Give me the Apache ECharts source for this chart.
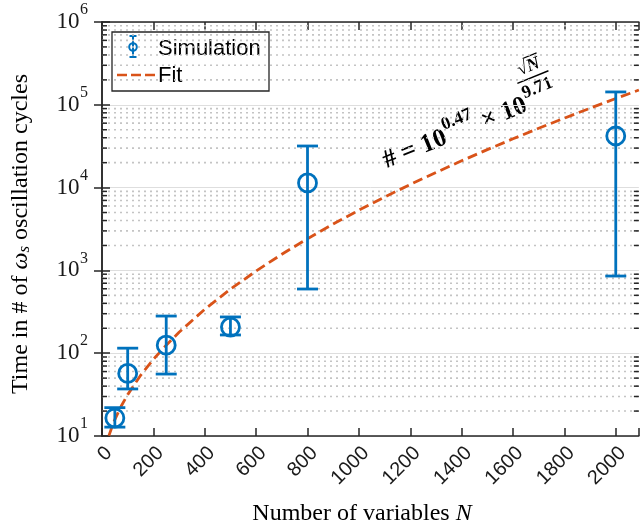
<!DOCTYPE html>
<html><head><meta charset="utf-8">
<script src="https://cdn.jsdelivr.net/npm/echarts@6/dist/echarts.min.js"></script>
<style>html,body{margin:0;padding:0;background:#fff}#c{width:641px;height:527px}</style>
</head><body><div id="c"></div>
<script>
// ---- data ----
const simN     = [50, 100, 250, 500, 800, 2000];
const simMean  = [16.5, 57, 125, 207, 11400, 42000];
const simLow   = [12.8, 37, 56, 166, 596, 855];
const simHigh  = [22, 115, 281, 274, 31800, 143000];
const fitN     = [27, 40, 50, 75, 100, 150, 200, 250, 300, 400, 500, 600, 700, 800, 900, 1000, 1100, 1200, 1300, 1400, 1500, 1600, 1700, 1800, 1900, 2000, 2090];
const fitVals  = [10.1, 13.2, 15.8, 23.0, 31.6, 53.9, 84.4, 125, 179, 339, 593, 984, 1566, 2415, 3631, 5330, 7690, 10900, 15240, 21050, 28770, 38840, 52000, 69050, 91000, 119100, 150700];
const xTicks   = [0, 200, 400, 600, 800, 1000, 1200, 1400, 1600, 1800, 2000];
const yTicks   = [10, 100, 1000, 10000, 100000, 1000000];
const yDecades = [10, 100, 1000, 10000, 100000];
const minorMult = [2, 3, 4, 5, 6, 7, 8, 9];

const X_MIN = 0, X_MAX = 2090, Y_MIN = 10, Y_MAX = 1e6;
const BLUE = '#0072BD', ORANGE = '#D95319', AX = '#262626', TXT = '#1a1a1a';
const SERIF = '"Liberation Serif","Times New Roman",serif';
const SANS = '"Liberation Sans",Arial,sans-serif';

const minorVals = [];
yDecades.forEach(d => minorMult.forEach(m => minorVals.push([d * m])));

const ctx = document.createElement('canvas').getContext('2d');
function tw(t, size, weight, style) {
  ctx.font = (style || 'normal') + ' ' + (weight || 'normal') + ' ' + size + 'px "Liberation Serif"';
  return ctx.measureText(t).width;
}

const chart = echarts.init(document.getElementById('c'), null, {renderer: 'canvas'});

// annotation pieces
const A = 26, S = 18;
const t1 = '# = 10', t2 = '0.47', t3 = ' \u00d7 10', t4 = '9.71';
const w1 = tw(t1, A, 'bold'), w2 = tw(t2, S, 'bold'), w3 = tw(t3, A, 'bold'), w4 = tw(t4, S, 'bold');
const fx = w1 + w2 + w3 + 2;
const wRoot = tw('\u221a', S, 'bold'), wN = tw('N', S, 'bold', 'italic');
const sqrtX = fx + w4 / 2 - (wRoot + wN) / 2;
function annText(x, y, text, size, extra) {
  return {type: 'text', x: x, y: y, style: Object.assign({text: text, fontFamily: SERIF, fontWeight: 'bold', fontSize: size, fill: '#000', align: 'left', verticalAlign: 'middle'}, extra || {})};
}

const axisCommon = {
  axisLine: {show: true, lineStyle: {color: AX, width: 1.5}},
  axisTick: {show: true, inside: true, length: 8, lineStyle: {color: AX, width: 1.5}}
};

const option = {
  animation: false,
  backgroundColor: '#fff',
  grid: {left: 102, right: 1, top: 22, bottom: 91, containLabel: false},
  xAxis: [Object.assign({
    type: 'value', min: X_MIN, max: X_MAX, interval: 200,
    axisLabel: {rotate: 45, margin: 7, verticalAlign: 'top', fontFamily: SANS, fontSize: 20, color: TXT,
      formatter: v => (xTicks.indexOf(v) >= 0 ? String(v) : '')},
    splitLine: {show: false}
  }, axisCommon), Object.assign({
    type: 'value', position: 'top', min: X_MIN, max: X_MAX, interval: 200,
    axisLabel: {show: false}, splitLine: {show: false}
  }, axisCommon)],
  yAxis: [Object.assign({
    type: 'log', logBase: 10, min: Y_MIN, max: Y_MAX,
    axisLabel: {show: false},
    splitLine: {show: true, lineStyle: {color: '#dedede', width: 1}}
  }, axisCommon), Object.assign({
    type: 'log', logBase: 10, min: Y_MIN, max: Y_MAX, position: 'right',
    axisLabel: {show: false}, splitLine: {show: false}
  }, axisCommon)],
  series: [{
    type: 'custom', name: 'minor', silent: true, z: 1,
    data: minorVals,
    encode: {y: 0},
    renderItem: function (params, api) {
      const v = api.value(0);
      const p0 = api.coord([X_MIN, v]), p1 = api.coord([X_MAX, v]);
      return {type: 'group', children: [
        {type: 'line', shape: {x1: p0[0], y1: p0[1], x2: p1[0], y2: p1[1]}, style: {stroke: '#c4c4c4', lineWidth: 1.6, lineDash: [2, 4]}},
        {type: 'line', shape: {x1: p0[0], y1: p0[1], x2: p0[0] + 5, y2: p0[1]}, style: {stroke: AX, lineWidth: 1.5}},
        {type: 'line', shape: {x1: p1[0] - 5, y1: p1[1], x2: p1[0], y2: p1[1]}, style: {stroke: AX, lineWidth: 1.5}}
      ]};
    }
  }, {
    type: 'custom', name: 'yLabels', silent: true, clip: false, z: 6,
    data: yTicks.map(v => [v]),
    encode: {y: 0},
    renderItem: function (params, api) {
      const v = api.value(0);
      const p = api.coord([X_MIN, v]);
      const e = String(Math.round(Math.log10(v)));
      const ws = tw(e, 16);
      const right = p[0] - 14;
      return {type: 'group', children: [
        {type: 'text', x: right, y: p[1] - 12, style: {text: e, fontFamily: SERIF, fontSize: 16, fill: TXT, align: 'right', verticalAlign: 'middle'}},
        {type: 'text', x: right - ws - 0.5, y: p[1], style: {text: '10', fontFamily: SERIF, fontSize: 23, fill: TXT, align: 'right', verticalAlign: 'middle'}}
      ]};
    }
  }, {
    type: 'line', name: 'Fit', z: 3,
    data: fitN.map((n, i) => [n, fitVals[i]]),
    symbol: 'none', smooth: false,
    lineStyle: {color: ORANGE, width: 2.8, type: [10, 5]}
  }, {
    type: 'custom', name: 'Simulation', z: 4,
    data: simN.map((n, i) => [n, simLow[i], simHigh[i]]),
    encode: {x: 0, y: [1, 2]},
    renderItem: function (params, api) {
      const x = api.value(0);
      const pl = api.coord([x, api.value(1)]), ph = api.coord([x, api.value(2)]);
      const w = 10.5;
      const st = {stroke: BLUE, lineWidth: 2.8};
      return {type: 'group', children: [
        {type: 'line', shape: {x1: pl[0], y1: pl[1], x2: ph[0], y2: ph[1]}, style: st},
        {type: 'line', shape: {x1: pl[0] - w, y1: pl[1], x2: pl[0] + w, y2: pl[1]}, style: st},
        {type: 'line', shape: {x1: ph[0] - w, y1: ph[1], x2: ph[0] + w, y2: ph[1]}, style: st}
      ]};
    }
  }, {
    type: 'scatter', name: 'SimulationMean', z: 5,
    data: simN.map((n, i) => [n, simMean[i]]),
    symbol: 'circle', symbolSize: 18,
    itemStyle: {color: 'rgba(0,0,0,0)', borderColor: BLUE, borderWidth: 2.8, opacity: 1}
  }],
  graphic: [
    // y-axis title
    {type: 'text', x: 20, y: 234, rotation: Math.PI / 2, z: 10,
      style: {text: '{n|Time in # of }{i|\u03c9}{sub|s}{n| oscillation cycles}', align: 'center', verticalAlign: 'middle',
        rich: {
          n: {fontFamily: SERIF, fontSize: 24, color: TXT, verticalAlign: 'bottom', lineHeight: 26},
          i: {fontFamily: SERIF, fontSize: 24, fontStyle: 'italic', color: TXT, verticalAlign: 'bottom', lineHeight: 26},
          sub: {fontFamily: SERIF, fontSize: 17, fontStyle: 'italic', color: TXT, verticalAlign: 'bottom', lineHeight: 17, padding: [14, 0, 0, 0]}
        }}},
    // x-axis title
    {type: 'text', x: 362, y: 514, z: 10,
      style: {text: '{n|Number of variables }{i|N}', align: 'center', verticalAlign: 'middle',
        rich: {
          n: {fontFamily: SERIF, fontSize: 24, color: TXT},
          i: {fontFamily: SERIF, fontSize: 24, fontStyle: 'italic', color: TXT}
        }}},
    // legend
    {type: 'group', z: 20, children: [
      {type: 'rect', shape: {x: 112, y: 32, width: 157, height: 59}, style: {fill: '#fff', stroke: AX, lineWidth: 1.3}},
      {type: 'line', shape: {x1: 133, y1: 36, x2: 133, y2: 57}, style: {stroke: BLUE, lineWidth: 2}},
      {type: 'line', shape: {x1: 129.5, y1: 36, x2: 136.5, y2: 36}, style: {stroke: BLUE, lineWidth: 2}},
      {type: 'line', shape: {x1: 129.5, y1: 57, x2: 136.5, y2: 57}, style: {stroke: BLUE, lineWidth: 2}},
      {type: 'circle', shape: {cx: 133, cy: 47, r: 3.8}, style: {fill: 'none', stroke: BLUE, lineWidth: 2}},
      {type: 'text', x: 158, y: 49, style: {text: 'Simulation', fontFamily: SANS, fontSize: 22, fill: '#000', verticalAlign: 'middle'}},
      {type: 'line', shape: {x1: 117, y1: 75, x2: 155, y2: 75}, style: {stroke: ORANGE, lineWidth: 2.5, lineDash: [10, 4]}},
      {type: 'text', x: 158, y: 76, style: {text: 'Fit', fontFamily: SANS, fontSize: 22, fill: '#000', verticalAlign: 'middle'}}
    ]},
    // fit annotation
    {type: 'group', x: 384, y: 162, rotation: 22 * Math.PI / 180, z: 15, children: [
      annText(0, 0, t1, A),
      annText(w1 + 0.5, -12, t2, S),
      annText(w1 + w2 + 1, 0, t3, A),
      annText(fx, -11, t4, S),
      {type: 'line', shape: {x1: fx - 1, y1: -23, x2: fx + w4 + 1, y2: -23}, style: {stroke: '#000', lineWidth: 1.4}},
      annText(sqrtX, -34, '\u221a', S),
      annText(sqrtX + wRoot, -34, 'N', S, {fontStyle: 'italic'}),
      {type: 'line', shape: {x1: sqrtX + wRoot - 1, y1: -44, x2: sqrtX + wRoot + wN + 1, y2: -44}, style: {stroke: '#000', lineWidth: 1.2}}
    ]}
  ]
};
chart.setOption(option);
</script></body></html>
